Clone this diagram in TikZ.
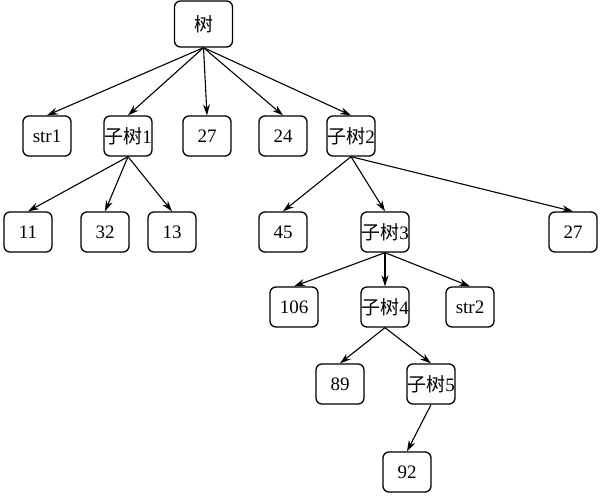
\documentclass[tikz,border=0pt]{standalone}
\usepackage{fontspec}
\setmainfont{Liberation Serif}
\newfontfamily\cjk{Noto Sans CJK SC}
\usetikzlibrary{arrows.meta}
\begin{document}
\begin{tikzpicture}[x=1pt,y=-1pt,
  box/.style={draw,line width=1.3pt,rounded corners=6pt,minimum width=48pt,minimum height=40pt,inner sep=0pt,font=\fontsize{19}{22}\selectfont,fill=white},
  edge/.style={line width=1.1pt,-{Stealth[length=11pt,width=7pt]}}]
\useasboundingbox (0,0) rectangle (600,496);
\node[box,minimum width=58pt,minimum height=46pt] (root) at (203.5,24) {\cjk 树};
\node[box] (str1) at (47,136) {str1};
\node[box] (s1) at (128,136) {{\cjk 子树}1};
\node[box] (n27a) at (207,136) {27};
\node[box] (n24) at (283,136) {24};
\node[box] (s2) at (351,136) {{\cjk 子树}2};
\node[box] (n11) at (28,232) {11};
\node[box] (n32) at (105,232) {32};
\node[box] (n13) at (172,232) {13};
\node[box] (n45) at (283,232) {45};
\node[box] (s3) at (385,232) {{\cjk 子树}3};
\node[box] (n27b) at (573,232) {27};
\node[box] (n106) at (294,307) {106};
\node[box] (s4) at (385,307) {{\cjk 子树}4};
\node[box] (str2) at (470,307) {str2};
\node[box] (n89) at (340,384) {89};
\node[box] (s5) at (431,384) {{\cjk 子树}5};
\node[box] (n92) at (407,472) {92};
\foreach \c in {str1,s1,n27a,n24,s2} \draw[edge] (root.south) -- (\c.north);
\foreach \c in {n11,n32,n13} \draw[edge] (s1.south) -- (\c.north);
\foreach \c in {n45,s3,n27b} \draw[edge] (s2.south) -- (\c.north);
\foreach \c in {n106,s4,str2} \draw[edge] (s3.south) -- (\c.north);
\foreach \c in {n89,s5} \draw[edge] (s4.south) -- (\c.north);
\draw[edge] (s5.south) -- (n92.north);
\end{tikzpicture}
\end{document}
